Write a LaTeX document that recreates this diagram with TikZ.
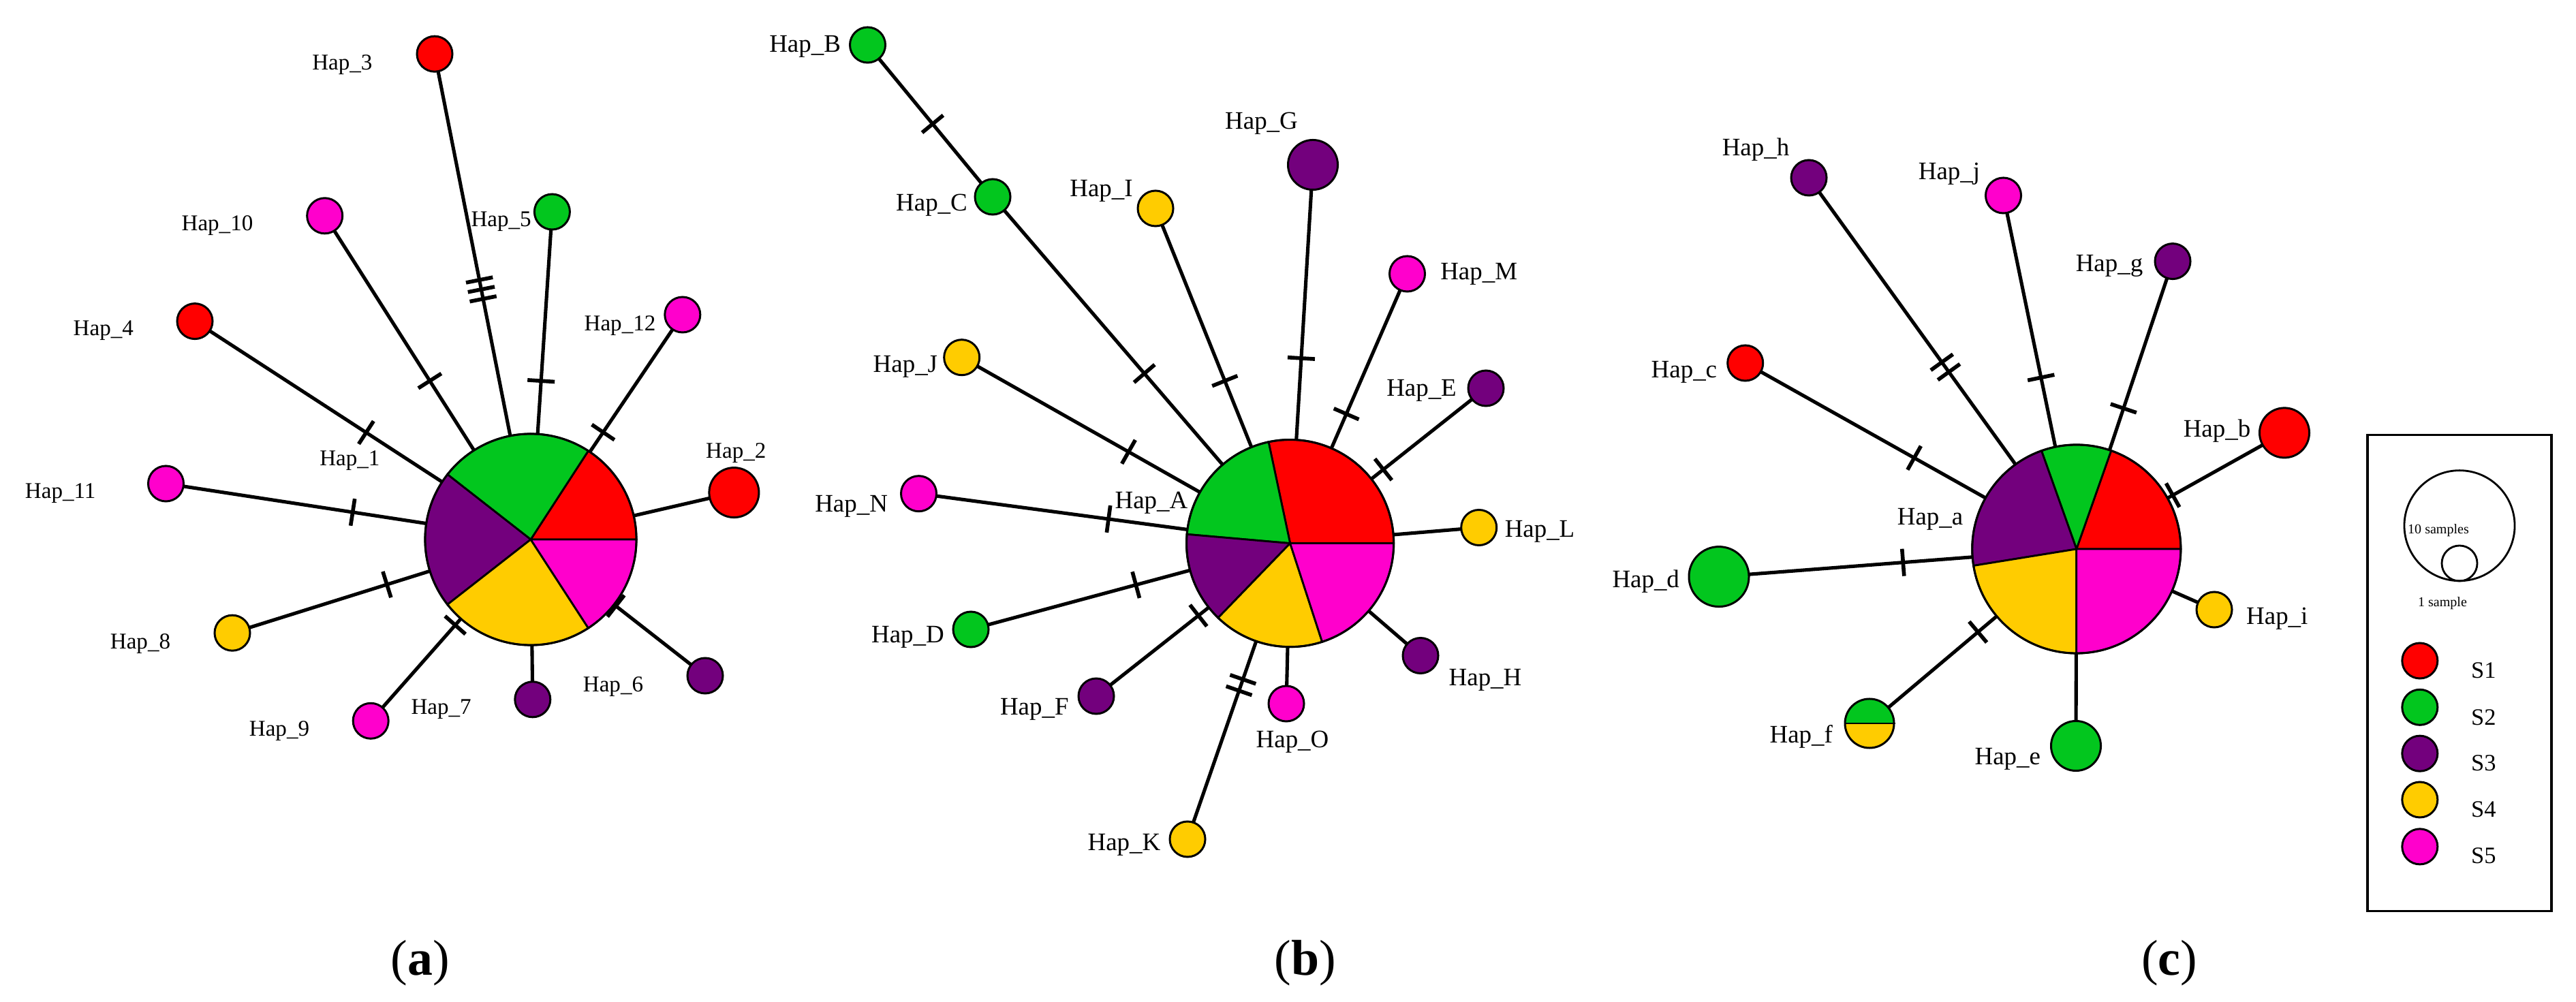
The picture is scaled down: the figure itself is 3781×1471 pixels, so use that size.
\documentclass[tikz,border=0pt]{standalone}
\usepackage{fontspec}
\setmainfont{Liberation Serif}
\usetikzlibrary{backgrounds}
\definecolor{cS1}{RGB}{255,0,0}
\definecolor{cS2}{RGB}{2,198,30}
\definecolor{cS3}{RGB}{115,0,125}
\definecolor{cS4}{RGB}{255,204,0}
\definecolor{cS5}{RGB}{255,0,204}
\newcommand{\tkone}{\rule[-0.2cm]{1.6pt}{0.4cm}}
\newcommand{\tktwo}{\tkone\hspace{0.12cm}\tkone}
\newcommand{\tkthree}{\tkone\hspace{0.085cm}\tkone\hspace{0.085cm}\tkone}
\newcommand{\pslice}[5]{\filldraw[fill=#5, line width=0.8pt] (#1) -- ++(#3:#2) arc[start angle=#3, end angle=#4, radius=#2] -- cycle;}
\tikzset{
  leaf/.style={circle, draw, line width=0.85pt, minimum size=0.52cm, inner sep=0pt},
  big/.style={minimum size=0.73cm},
  hub/.style={circle, draw, line width=0.85pt, inner sep=0pt},
  lab/.style={inner sep=0pt, font=\fontsize{10.5pt}{12pt}\selectfont},
  laba/.style={inner sep=0pt, font=\fontsize{9.4pt}{11pt}\selectfont},
  conn/.style={line width=1.45pt},
  tk/.style={sloped, inner sep=0pt, pos=#1},
  capt/.style={inner sep=0pt, font=\fontsize{21pt}{24pt}\selectfont},
}
\begin{document}
\begin{tikzpicture}[x=0.01cm, y=-0.01cm]
\useasboundingbox (0,0) rectangle (3781,1471);

% ---------------- panel (a) ----------------
\coordinate (c1) at (779,792);
\pslice{c1}{1.55cm}{0}{57}{cS1}
\pslice{c1}{1.55cm}{57}{142}{cS2}
\pslice{c1}{1.55cm}{142}{218}{cS3}
\pslice{c1}{1.55cm}{218}{303}{cS4}
\pslice{c1}{1.55cm}{303}{360}{cS5}
\node[hub, minimum size=3.1cm] (h1) at (c1) {};
\node[leaf, fill=cS1] (a3) at (638,79.2) {};
\node[leaf, fill=cS2] (a5) at (810.4,311) {};
\node[leaf, fill=cS5] (a10) at (476.7,316.8) {};
\node[leaf, fill=cS1] (a4) at (286,471.6) {};
\node[leaf, fill=cS5] (a12) at (1001.8,462) {};
\node[leaf, big, fill=cS1] (a2) at (1077.4,723.1) {};
\node[leaf, fill=cS5] (a11) at (243.5,710) {};
\node[leaf, fill=cS4] (a8) at (341,929.2) {};
\node[leaf, fill=cS5] (a9) at (544.2,1058.3) {};
\node[leaf, fill=cS3] (a7) at (781.8,1026.8) {};
\node[leaf, fill=cS3] (a6) at (1035,992) {};
\node[laba] (la3) at (502.4,95.3) {Hap\_3};
\node[laba] (la5) at (735.6,325) {Hap\_5};
\node[laba] (la10) at (319,331.5) {Hap\_10};
\node[laba] (la4) at (151.8,485.5) {Hap\_4};
\node[laba] (la12) at (910,478) {Hap\_12};
\node[laba] (la2) at (1080.3,665.2) {Hap\_2};
\node[laba] (la1) at (513.4,676.2) {Hap\_1};
\node[laba] (la11) at (88.7,724.6) {Hap\_11};
\node[laba] (la8) at (206,944.6) {Hap\_8};
\node[laba] (la9) at (410,1073) {Hap\_9};
\node[laba] (la7) at (647.6,1041.4) {Hap\_7};
\node[laba] (la6) at (900,1008) {Hap\_6};
\begin{pgfonlayer}{background}
\draw[conn] (h1.center) -- (a3.center) node[tk=0.515] {\tkthree};
\draw[conn] (h1.center) -- (a5.center) node[tk=0.484] {\tkone};
\draw[conn] (h1.center) -- (a10.center) node[tk=0.49] {\tkone};
\draw[conn] (h1.center) -- (a4.center) node[tk=0.49] {\tkone};
\draw[conn] (h1.center) -- (a12.center) node[tk=0.477] {\tkone};
\draw[conn] (h1.center) -- (a2.center);
\draw[conn] (h1.center) -- (a11.center) node[tk=0.488] {\tkone};
\draw[conn] (h1.center) -- (a8.center) node[tk=0.482] {\tkone};
\draw[conn] (h1.center) -- (a9.center) node[tk=0.472] {\tkone};
\draw[conn] (h1.center) -- (a7.center);
\draw[conn] (h1.center) -- (a6.center) node[tk=0.488] {\tkone};
\end{pgfonlayer}

% ---------------- panel (b) ----------------
\coordinate (c2) at (1893.6,797.6);
\pslice{c2}{1.52cm}{0}{102}{cS1}
\pslice{c2}{1.52cm}{102}{175}{cS2}
\pslice{c2}{1.52cm}{175}{226}{cS3}
\pslice{c2}{1.52cm}{226}{288}{cS4}
\pslice{c2}{1.52cm}{288}{360}{cS5}
\node[hub, minimum size=3.04cm] (h2) at (c2) {};
\node[leaf, fill=cS2] (bB) at (1273.5,66) {};
\node[leaf, fill=cS2] (bC) at (1457,289) {};
\node[leaf, fill=cS4] (bI) at (1696,306) {};
\node[leaf, big, fill=cS3] (bG) at (1927,242) {};
\node[leaf, fill=cS5] (bM) at (2065.5,402) {};
\node[leaf, fill=cS3] (bE) at (2181,570) {};
\node[leaf, fill=cS4] (bL) at (2170.7,774.5) {};
\node[leaf, fill=cS3] (bH) at (2085,962.5) {};
\node[leaf, fill=cS5] (bO) at (1888,1033) {};
\node[leaf, fill=cS4] (bK) at (1743,1232) {};
\node[leaf, fill=cS3] (bF) at (1609,1022) {};
\node[leaf, fill=cS2] (bD) at (1425,924) {};
\node[leaf, fill=cS5] (bN) at (1348.5,724.7) {};
\node[leaf, fill=cS4] (bJ) at (1411.7,524.7) {};
\node[lab] (lbB) at (1181.6,68) {Hap\_B};
\node[lab] (lbC) at (1367.5,301.6) {Hap\_C};
\node[lab] (lbI) at (1616.5,280.6) {Hap\_I};
\node[lab] (lbG) at (1851.5,181) {Hap\_G};
\node[lab] (lbM) at (2170.7,402) {Hap\_M};
\node[lab] (lbE) at (2086.5,573.8) {Hap\_E};
\node[lab] (lbL) at (2260,780) {Hap\_L};
\node[lab] (lbH) at (2180,998) {Hap\_H};
\node[lab] (lbO) at (1897,1089) {Hap\_O};
\node[lab] (lbK) at (1650,1240) {Hap\_K};
\node[lab] (lbF) at (1518.3,1041.7) {Hap\_F};
\node[lab] (lbD) at (1332.4,935) {Hap\_D};
\node[lab] (lbN) at (1249.6,743.6) {Hap\_N};
\node[lab] (lbJ) at (1328.9,538) {Hap\_J};
\node[lab] (lbA) at (1690,738) {Hap\_A};
\begin{pgfonlayer}{background}
\draw[conn] (bC.center) -- (bB.center) node[tk=0.48] {\tkone};
\draw[conn] (h2.center) -- (bC.center) node[tk=0.49] {\tkone};
\draw[conn] (h2.center) -- (bI.center) node[tk=0.485] {\tkone};
\draw[conn] (h2.center) -- (bG.center) node[tk=0.489] {\tkone};
\draw[conn] (h2.center) -- (bM.center) node[tk=0.48] {\tkone};
\draw[conn] (h2.center) -- (bE.center) node[tk=0.476] {\tkone};
\draw[conn] (h2.center) -- (bL.center);
\draw[conn] (h2.center) -- (bH.center);
\draw[conn] (h2.center) -- (bO.center);
\draw[conn] (h2.center) -- (bK.center) node[tk=0.479] {\tktwo};
\draw[conn] (h2.center) -- (bF.center) node[tk=0.473] {\tkone};
\draw[conn] (h2.center) -- (bD.center) node[tk=0.483] {\tkone};
\draw[conn] (h2.center) -- (bN.center) node[tk=0.489] {\tkone};
\draw[conn] (h2.center) -- (bJ.center) node[tk=0.492] {\tkone};
\end{pgfonlayer}

% ---------------- panel (c) ----------------
\coordinate (c3) at (3047.8,806);
\pslice{c3}{1.53cm}{0}{70.6}{cS1}
\pslice{c3}{1.53cm}{70.6}{109.6}{cS2}
\pslice{c3}{1.53cm}{109.6}{189.2}{cS3}
\pslice{c3}{1.53cm}{189.2}{270}{cS4}
\pslice{c3}{1.53cm}{270}{360}{cS5}
\node[hub, minimum size=3.06cm] (h3) at (c3) {};
\node[leaf, fill=cS3] (ch) at (2655,261) {};
\node[leaf, fill=cS5] (cj) at (2940.5,287) {};
\node[leaf, fill=cS3] (cg) at (3189,383.6) {};
\node[leaf, fill=cS1] (cc) at (2561.7,533) {};
\node[leaf, big, fill=cS1] (cb) at (3353,635.4) {};
\node[leaf, minimum size=0.88cm, fill=cS2] (cd) at (2523,846.6) {};
\node[leaf, fill=cS4] (ci) at (3250,895) {};
\node[leaf, big, fill=cS2] (ce) at (3047,1095) {};
\coordinate (cfc) at (2744,1062);
\fill[cS2] (cfc) ++(0:0.36cm) arc[start angle=0, end angle=180, radius=0.36cm] -- cycle;
\fill[cS4] (cfc) ++(180:0.36cm) arc[start angle=180, end angle=360, radius=0.36cm] -- cycle;
\node[leaf, minimum size=0.72cm] (cf) at (cfc) {};
\draw[line width=0.85pt] (cf.west) -- (cf.east);
\node[lab] (lch) at (2577,220) {Hap\_h};
\node[lab] (lcj) at (2861,255) {Hap\_j};
\node[lab] (lcg) at (3096,390.6) {Hap\_g};
\node[lab] (lcc) at (2471.9,546.4) {Hap\_c};
\node[lab] (lcb) at (3254,632.6) {Hap\_b};
\node[lab] (lca) at (2833,762.4) {Hap\_a};
\node[lab] (lcd) at (2415.7,853.6) {Hap\_d};
\node[lab] (lci) at (3342.3,908.4) {Hap\_i};
\node[lab] (lcf) at (2643.7,1081) {Hap\_f};
\node[lab] (lce) at (2946.8,1114.6) {Hap\_e};
\begin{pgfonlayer}{background}
\draw[conn] (h3.center) -- (ch.center) node[tk=0.49] {\tktwo};
\draw[conn] (h3.center) -- (cj.center) node[tk=0.485] {\tkone};
\draw[conn] (h3.center) -- (cg.center) node[tk=0.489] {\tkone};
\draw[conn] (h3.center) -- (cc.center) node[tk=0.49] {\tkone};
\draw[conn] (h3.center) -- (cb.center) node[tk=0.463] {\tkone};
\draw[conn] (h3.center) -- (cd.center) node[tk=0.485] {\tkone};
\draw[conn] (h3.center) -- (cf.center) node[tk=0.476] {\tkone};
\draw[conn] (h3.center) -- (ce.center);
\draw[conn] (h3.center) -- (ci.center);
\end{pgfonlayer}

% ---------------- legend ----------------
\node[draw, line width=0.95pt, minimum width=2.7cm, minimum height=6.98cm, inner sep=0pt] (legbox) at (3610,988) {};
\node[circle, draw, line width=0.8pt, minimum size=1.62cm, inner sep=0pt] (ten) at (3610,771.7) {};
\node[circle, draw, line width=0.8pt, minimum size=0.52cm, inner sep=0pt] (one) at (3610,827) {};
\node[inner sep=0pt, font=\fontsize{5.7pt}{7pt}\selectfont] (tenlab) at (3579,779) {10 samples};
\node[inner sep=0pt, font=\fontsize{5.7pt}{7pt}\selectfont] (onelab) at (3585,885.6) {1 sample};
\node[leaf, fill=cS1] (k1) at (3551.8,970) {};
\node[leaf, fill=cS2] (k2) at (3551.8,1038.3) {};
\node[leaf, fill=cS3] (k3) at (3551.8,1106.2) {};
\node[leaf, fill=cS4] (k4) at (3551.8,1174) {};
\node[leaf, fill=cS5] (k5) at (3551.8,1242.9) {};
\node[inner sep=0pt, font=\fontsize{9.8pt}{12pt}\selectfont] (s1) at (3645.3,984.5) {S1};
\node[inner sep=0pt, font=\fontsize{9.8pt}{12pt}\selectfont] (s2) at (3645.3,1052.9) {S2};
\node[inner sep=0pt, font=\fontsize{9.8pt}{12pt}\selectfont] (s3) at (3645.3,1120.7) {S3};
\node[inner sep=0pt, font=\fontsize{9.8pt}{12pt}\selectfont] (s4) at (3645.3,1188.6) {S4};
\node[inner sep=0pt, font=\fontsize{9.8pt}{12pt}\selectfont] (s5) at (3645.3,1256.4) {S5};

% ---------------- captions ----------------
\node[capt] (capa) at (617,1414) {(\textbf{a})};
\node[capt] (capb) at (1916,1414) {(\textbf{b})};
\node[capt] (capc) at (3184,1414) {(\textbf{c})};
\end{tikzpicture}
\end{document}
